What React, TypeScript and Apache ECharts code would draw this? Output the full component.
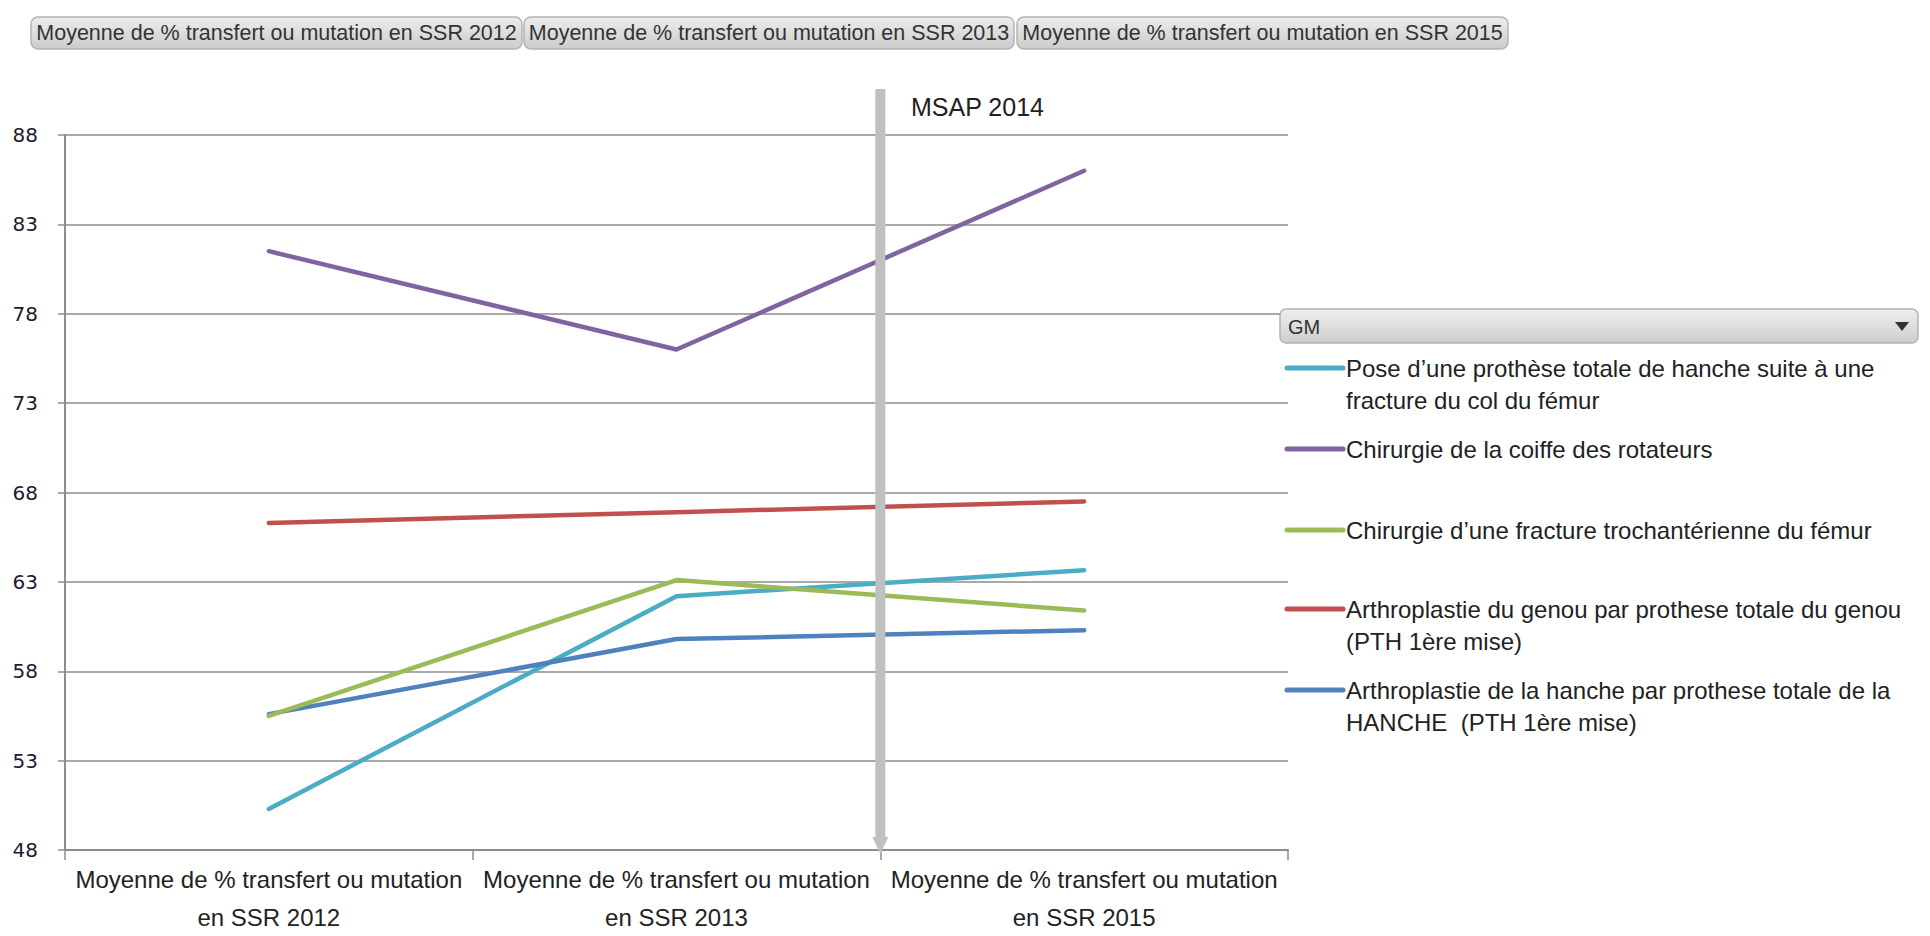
import React, { useEffect, useRef } from "react";
import * as echarts from "echarts";

// ---- data ----
const categories = [
  "Moyenne de % transfert ou mutation\nen SSR 2012",
  "Moyenne de % transfert ou mutation\nen SSR 2013",
  "Moyenne de % transfert ou mutation\nen SSR 2015",
];
const tabLabels = [
  "Moyenne de % transfert ou mutation en SSR 2012",
  "Moyenne de % transfert ou mutation en SSR 2013",
  "Moyenne de % transfert ou mutation en SSR 2015",
];
const seriesLabels = [
  "Pose d’une prothèse totale de hanche suite à une\nfracture du col du fémur",
  "Chirurgie de la coiffe des rotateurs",
  "Chirurgie d’une fracture trochantérienne du fémur",
  "Arthroplastie du genou par prothese totale du genou\n(PTH 1ère mise)",
  "Arthroplastie de la hanche par prothese totale de la\nHANCHE  (PTH 1ère mise)",
];
const poseProthese = [50.3, 62.2, 63.65];
const coiffeRotateurs = [81.5, 76.0, 86.0];
const fractureTrochanter = [55.5, 63.1, 61.4];
const arthroGenou = [66.3, 66.9, 67.5];
const arthroHanche = [55.6, 59.8, 60.3];
const seriesValues = [poseProthese, coiffeRotateurs, fractureTrochanter, arthroGenou, arthroHanche];
const yMin = 48;
const yMax = 88;
const yStep = 5;
const filterLabel = "GM";
const annotationLabel = "MSAP 2014";

// ---- styles ----
const colors = ["#4BACC6", "#8064A2", "#9BBB59", "#C0504D", "#4F81BD"];
const drawOrder = [0, 1, 3, 4, 2];
const legendRowsY = [368, 449, 530, 609, 690];
const FONT = "'Liberation Sans', Arial, sans-serif";

export default function App() {
  const ref = useRef<HTMLDivElement>(null);

  useEffect(() => {
    if (!ref.current) return;
    const chart = echarts.init(ref.current, undefined, { renderer: "svg" });

    const gridLeft = 65;
    const gridTop = 135;
    const gridRight = 1930 - 1288;
    const gridBottom = 79;

    const option: any = {
      animation: false,
      backgroundColor: "#ffffff",
      grid: { left: gridLeft, right: gridRight, top: gridTop, bottom: gridBottom, containLabel: false },
      xAxis: {
        type: "category",
        data: categories,
        boundaryGap: true,
        axisLine: { show: true, lineStyle: { color: "#8c8c8c", width: 2 } },
        axisTick: { show: true, length: 10, lineStyle: { color: "#8c8c8c", width: 1.5 } },
        axisLabel: {
          interval: 0,
          fontSize: 24,
          lineHeight: 38,
          margin: 10,
          color: "#222222",
          fontFamily: FONT,
        },
        splitLine: { show: false },
      },
      yAxis: {
        type: "value",
        min: yMin,
        max: yMax,
        interval: yStep,
        axisLine: { show: true, lineStyle: { color: "#8c8c8c", width: 2 } },
        axisTick: { show: true, length: 7, lineStyle: { color: "#8c8c8c", width: 1.5 } },
        axisLabel: {
          fontSize: 20,
          margin: 27,
          color: "#1c1c2e",
          fontFamily: "'DejaVu Sans', Verdana, sans-serif",
        },
        splitLine: { show: true, lineStyle: { color: "#8c8c8c", width: 1.6 } },
      },
      series: drawOrder.map((i) => ({
        type: "line",
        name: seriesLabels[i].replace("\n", " "),
        data: seriesValues[i],
        symbol: "none",
        smooth: false,
        lineStyle: { color: colors[i], width: 4.5, cap: "round", join: "round" },
        itemStyle: { color: colors[i] },
        z: 3 + drawOrder.indexOf(i),
      })),
    };
    chart.setOption(option);

    const x1 = chart.convertToPixel({ xAxisIndex: 0 }, 1) as number;
    const x2 = chart.convertToPixel({ xAxisIndex: 0 }, 2) as number;
    const bx = (x1 + x2) / 2;
    const yBottom = chart.convertToPixel({ yAxisIndex: 0 }, yMin) as number;

    const tabGrad = () =>
      new echarts.graphic.LinearGradient(0, 0, 0, 1, [
        { offset: 0, color: "#ededed" },
        { offset: 1, color: "#cccccc" },
      ]);

    const tabs = [
      { x: 31, w: 491 },
      { x: 524, w: 490 },
      { x: 1017, w: 491 },
    ];

    const graphic: any[] = [];
    tabs.forEach((t, i) => {
      graphic.push({
        type: "rect",
        shape: { x: t.x, y: 17, width: t.w, height: 32, r: 7 },
        style: { fill: tabGrad(), stroke: "#b4b4b4", lineWidth: 1.5 },
        z: 50,
      });
      graphic.push({
        type: "text",
        x: t.x + t.w / 2,
        y: 33,
        style: {
          text: tabLabels[i],
          fontSize: 21.5,
          fontFamily: FONT,
          fill: "#333333",
          align: "center",
          verticalAlign: "middle",
          textAlign: "center",
          textVerticalAlign: "middle",
        },
        z: 51,
      });
    });

    // MSAP vertical marker
    graphic.push({
      type: "rect",
      shape: { x: bx - 5, y: 89, width: 10, height: yBottom - 89 - 12 },
      style: { fill: "#c0c0c0" },
      z: 40,
    });
    graphic.push({
      type: "polygon",
      shape: { points: [[bx - 8, yBottom - 13], [bx + 8, yBottom - 13], [bx, yBottom + 4]] },
      style: { fill: "#c0c0c0" },
      z: 40,
    });
    graphic.push({
      type: "text",
      x: 911,
      y: 107,
      style: {
        text: annotationLabel,
        fontSize: 25,
        fontFamily: FONT,
        fill: "#222222",
        align: "left",
        verticalAlign: "middle",
        textAlign: "left",
        textVerticalAlign: "middle",
      },
      z: 41,
    });

    // GM filter box
    graphic.push({
      type: "rect",
      shape: { x: 1280, y: 309, width: 638, height: 34, r: 6 },
      style: {
        fill: new echarts.graphic.LinearGradient(0, 0, 0, 1, [
          { offset: 0, color: "#efefef" },
          { offset: 1, color: "#cdcdcd" },
        ]),
        stroke: "#b4b4b4",
        lineWidth: 1.5,
      },
      z: 50,
    });
    graphic.push({
      type: "text",
      x: 1288,
      y: 327,
      style: {
        text: filterLabel,
        fontSize: 20,
        fontFamily: FONT,
        fill: "#333333",
        align: "left",
        verticalAlign: "middle",
        textAlign: "left",
        textVerticalAlign: "middle",
      },
      z: 51,
    });
    graphic.push({
      type: "polygon",
      shape: { points: [[1895, 322], [1909, 322], [1902, 331]] },
      style: { fill: "#333333" },
      z: 51,
    });

    // Legend
    seriesLabels.forEach((lab, i) => {
      const y = legendRowsY[i];
      graphic.push({
        type: "line",
        shape: { x1: 1287, y1: y, x2: 1343, y2: y },
        style: { stroke: colors[i], lineWidth: 5, lineCap: "round" },
        z: 50,
      });
      graphic.push({
        type: "text",
        x: 1346,
        y: y - 16,
        style: {
          text: lab,
          fontSize: 24,
          lineHeight: 32,
          fontFamily: FONT,
          fill: "#222222",
          align: "left",
          verticalAlign: "top",
          textAlign: "left",
          textVerticalAlign: "top",
        },
        z: 50,
      });
    });

    chart.setOption({ graphic });

    return () => {
      chart.dispose();
    };
  }, []);

  return (
    <div
      ref={ref}
      style={{ position: "fixed", left: 0, top: 0, width: 1930, height: 936, background: "#fff" }}
    />
  );
}
